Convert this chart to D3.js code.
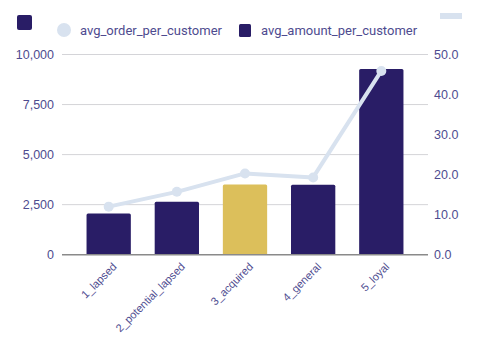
<!DOCTYPE html>
<html>
<head>
<meta charset="utf-8">
<script src="https://cdn.jsdelivr.net/npm/d3@7"></script>
<style>
  html, body { margin: 0; padding: 0; background: #fff; }
  svg { display: block; font-family: Roboto, "Noto Sans", sans-serif; }
</style>
</head>
<body>
<svg id="chart" width="481" height="340"></svg>
<script>
// Customer segments
const segments = ["1_lapsed", "2_potential_lapsed", "3_acquired", "4_general", "5_loyal"];
// Average amount per customer (left axis)
const avgAmount = [2060, 2640, 3510, 3500, 9280];
// Average orders per customer (right axis)
const avgOrder = [12.0, 15.7, 20.3, 19.3, 45.9];
// Highlighted segment
const highlighted = ["3_acquired"];
// Tick values
const leftTicks = [0, 2500, 5000, 7500, 10000];
const rightTicks = [0, 10, 20, 30, 40, 50];

const textColor = "#4e4b8f";
const barColor = "#291d66";
const highlightColor = "#dcbf5b";
const lineColor = "#d8e2ef";
const gridColor = "#d4d4d8";

const svg = d3.select("#chart");
const plotLeft = 62, plotRight = 428, plotTop = 54.5, plotBottom = 254.7;

const x = d3.scaleBand().domain(segments).range([plotLeft, plotRight])
  .paddingInner(0.35).paddingOuter(0.36);
const yL = d3.scaleLinear().domain([0, 10000]).range([plotBottom, plotTop]);
const yR = d3.scaleLinear().domain([0, 50]).range([plotBottom, plotTop]);

// Grid lines
svg.append("g").selectAll("line").data(leftTicks.slice(1)).join("line")
  .attr("x1", plotLeft).attr("x2", plotRight)
  .attr("y1", d => yL(d)).attr("y2", d => yL(d))
  .attr("stroke", gridColor).attr("stroke-width", 1);

// Left axis
const leftAxis = svg.append("g").attr("transform", `translate(${plotLeft},0)`)
  .call(d3.axisLeft(yL).tickValues(leftTicks).tickFormat(d3.format(",")).tickSize(0).tickPadding(8));
leftAxis.select(".domain").remove();
leftAxis.selectAll("text").attr("fill", textColor).attr("font-size", 12.5);

// Right axis
const rightAxis = svg.append("g").attr("transform", `translate(${plotRight},0)`)
  .call(d3.axisRight(yR).tickValues(rightTicks).tickFormat(d3.format(".1f")).tickSize(0).tickPadding(6));
rightAxis.select(".domain").remove();
rightAxis.selectAll("text").attr("fill", textColor).attr("font-size", 12.5);

// Bars
svg.append("g").selectAll("rect").data(segments).join("rect")
  .attr("x", d => x(d))
  .attr("width", x.bandwidth())
  .attr("y", (d, i) => yL(avgAmount[i]))
  .attr("height", (d, i) => plotBottom - yL(avgAmount[i]))
  .attr("rx", 1.5)
  .attr("fill", d => highlighted.includes(d) ? highlightColor : barColor);

// Baseline
svg.append("line")
  .attr("x1", plotLeft).attr("x2", plotRight)
  .attr("y1", plotBottom).attr("y2", plotBottom)
  .attr("stroke", "#8a8a8a").attr("stroke-width", 1.5);

// X axis labels
const xAxis = svg.append("g").attr("transform", `translate(0,${plotBottom})`)
  .call(d3.axisBottom(x).tickSize(0).tickPadding(0));
xAxis.select(".domain").remove();
xAxis.selectAll("text")
  .attr("fill", textColor).attr("font-size", 11)
  .attr("text-anchor", "end")
  .attr("dy", "0.35em")
  .attr("transform", "translate(6,10) rotate(-45)");

// Line series
const line = d3.line()
  .x((d, i) => x(segments[i]) + x.bandwidth() / 2)
  .y(d => yR(d));
svg.append("path").datum(avgOrder)
  .attr("d", line)
  .attr("fill", "none").attr("stroke", lineColor)
  .attr("stroke-width", 4).attr("stroke-linejoin", "round");
svg.append("g").selectAll("circle").data(avgOrder).join("circle")
  .attr("cx", (d, i) => x(segments[i]) + x.bandwidth() / 2)
  .attr("cy", d => yR(d))
  .attr("r", 5)
  .attr("fill", lineColor);

// Legend
svg.append("rect").attr("x", 17).attr("y", 15).attr("width", 15).attr("height", 15)
  .attr("rx", 2).attr("fill", barColor);
svg.append("circle").attr("cx", 64).attr("cy", 30).attr("r", 7).attr("fill", lineColor);
svg.append("text").attr("x", 80).attr("y", 34.5).attr("fill", textColor)
  .attr("font-size", 13).text("avg_order_per_customer");
svg.append("rect").attr("x", 239).attr("y", 24).attr("width", 12).attr("height", 13)
  .attr("rx", 1.5).attr("fill", barColor);
svg.append("text").attr("x", 261).attr("y", 34.5).attr("fill", textColor)
  .attr("font-size", 13).text("avg_amount_per_customer");
svg.append("rect").attr("x", 440).attr("y", 13).attr("width", 22).attr("height", 6)
  .attr("fill", lineColor);
</script>
</body>
</html>
